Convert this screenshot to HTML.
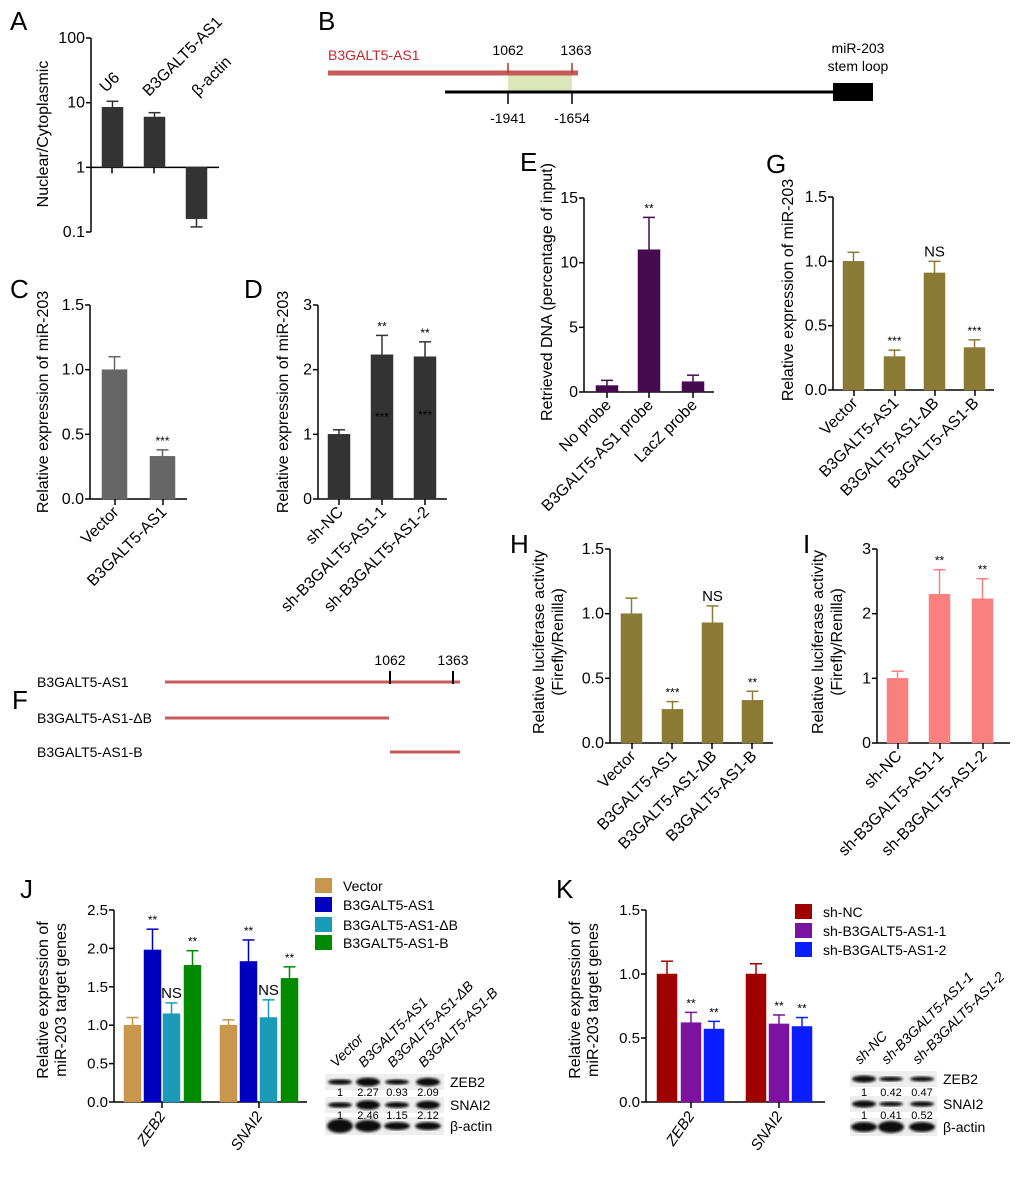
<!DOCTYPE html>
<html><head><meta charset="utf-8"><style>
html,body{margin:0;padding:0;background:#fff;}
svg{display:block;font-family:"Liberation Sans",sans-serif;}
.nar{font-family:"Liberation Sans Narrow","Liberation Sans",sans-serif;}
</style></head><body>
<svg id="fig" width="1020" height="1181" viewBox="0 0 1020 1181" xmlns="http://www.w3.org/2000/svg">
<defs><filter id="bl"><feGaussianBlur stdDeviation="1.2"/></filter></defs>
<g font-size="26">
<text x="10" y="30">A</text><text x="318" y="30">B</text><text x="10" y="298">C</text><text x="244" y="298">D</text>
<text x="520" y="171">E</text><text x="766" y="173">G</text><text x="12" y="709">F</text>
<text x="510" y="553">H</text><text x="803" y="553">I</text><text x="20" y="898">J</text><text x="556" y="898">K</text>
</g>
<g>
<text x="328" y="60" fill="#c0282d" font-size="14">B3GALT5-AS1</text>
<rect x="508" y="73" width="64" height="19" fill="#dbe7b8"/>
<line x1="328" y1="73" x2="578" y2="73" stroke="#c55a5a" stroke-width="5"/>
<line x1="445" y1="92" x2="835" y2="92" stroke="#000" stroke-width="3"/>
<rect x="833" y="83" width="40" height="18" fill="#000"/>
<line x1="508" y1="63" x2="508" y2="73" stroke="#c0282d" stroke-width="1.5"/><line x1="572" y1="63" x2="572" y2="73" stroke="#c0282d" stroke-width="1.5"/>
<line x1="508" y1="92" x2="508" y2="104" stroke="#000" stroke-width="1.5"/><line x1="572" y1="92" x2="572" y2="104" stroke="#000" stroke-width="1.5"/>
<text x="508" y="55" font-size="14" text-anchor="middle">1062</text><text x="576" y="55" font-size="14" text-anchor="middle">1363</text>
<text x="508" y="123" font-size="14" text-anchor="middle">-1941</text><text x="572" y="123" font-size="14" text-anchor="middle">-1654</text>
<text x="858" y="53" font-size="14" text-anchor="middle">miR-203</text><text x="858" y="71" font-size="14" text-anchor="middle">stem loop</text>
</g>
<g font-size="14">
<text x="37" y="687">B3GALT5-AS1</text><text x="37" y="723">B3GALT5-AS1-ΔB</text><text x="37" y="757">B3GALT5-AS1-B</text>
<line x1="165" y1="682" x2="460" y2="682" stroke="#c55a5a" stroke-width="3"/>
<line x1="165" y1="718" x2="389" y2="718" stroke="#c55a5a" stroke-width="3"/>
<line x1="390" y1="752" x2="460" y2="752" stroke="#c55a5a" stroke-width="3"/>
<line x1="390" y1="671" x2="390" y2="684" stroke="#000" stroke-width="2"/><line x1="453" y1="671" x2="453" y2="684" stroke="#000" stroke-width="2"/>
<text x="390" y="665" text-anchor="middle">1062</text><text x="453" y="665" text-anchor="middle">1363</text>
</g>
<g id="charts"></g>
</svg>
<script>
const aCats=["U6","B3GALT5-AS1","β-actin"]; const aVals=[8.5,6.0,0.16]; const aErr=[10.5,7.0,0.12];
const cCats=["Vector","B3GALT5-AS1"]; const cVals=[1.0,0.33]; const cErr=[1.1,0.38]; const cTicks=["0.0","0.5","1.0","1.5"];
const dCats=["sh-NC","sh-B3GALT5-AS1-1","sh-B3GALT5-AS1-2"]; const dVals=[1.0,2.23,2.2]; const dErr=[1.07,2.53,2.43]; const dTicks=["0","1","2","3"];
const eCats=["No probe","B3GALT5-AS1 probe","LacZ probe"]; const eVals=[0.5,11.0,0.8]; const eErr=[0.9,13.5,1.3]; const eTicks=["0","5","10","15"];
const gCats=["Vector","B3GALT5-AS1","B3GALT5-AS1-ΔB","B3GALT5-AS1-B"]; const gVals=[1.0,0.26,0.91,0.33]; const gErr=[1.07,0.31,1.0,0.39];
const hVals=[1.0,0.26,0.93,0.33]; const hErr=[1.12,0.32,1.06,0.4];
const iVals=[1.0,2.3,2.23]; const iErr=[1.11,2.68,2.54];
const jGroups=["ZEB2","SNAI2"]; const jSeries=["Vector","B3GALT5-AS1","B3GALT5-AS1-ΔB","B3GALT5-AS1-B"];
const jZeb=[1.0,1.98,1.15,1.78]; const jZebErr=[1.1,2.25,1.29,1.97]; const jSnai=[1.0,1.83,1.1,1.61]; const jSnaiErr=[1.07,2.11,1.33,1.76];
const jTicks=["0.0","0.5","1.0","1.5","2.0","2.5"];
const kSeries=["sh-NC","sh-B3GALT5-AS1-1","sh-B3GALT5-AS1-2"];
const kZeb=[1.0,0.62,0.57]; const kZebErr=[1.1,0.7,0.63]; const kSnai=[1.0,0.61,0.59]; const kSnaiErr=[1.08,0.68,0.66];
const j15Ticks=["0.0","0.5","1.0","1.5"];

const NS="http://www.w3.org/2000/svg";
const root=document.getElementById('charts');
function el(tag,at,parent,txt){const e=document.createElementNS(NS,tag);for(const k in at)e.setAttribute(k,at[k]);if(txt!==undefined)e.textContent=txt;(parent||root).appendChild(e);return e;}

function chart(o){
  const g=el('g',{});
  
  
  const ys=v=>o.log? o.y0-(Math.log10(v)-Math.log10(o.min))/(Math.log10(o.max)-Math.log10(o.min))*(o.y0-o.yTop)
                     : o.y0-(v-o.min)/(o.max-o.min)*(o.y0-o.yTop);
  const base=o.log?ys(1):o.y0;
  el('line',{x1:o.ax,y1:o.yTop,x2:o.ax,y2:o.y0,stroke:'#000','stroke-width':1.5},g);
  o.ticks.forEach((t,i)=>{const v=o.tickVals[i];const y=ys(v);
    el('line',{x1:o.ax-5,y1:y,x2:o.ax,y2:y,stroke:'#000','stroke-width':1.5},g);
    const tx=el('text',{x:o.ax-6,y:y+5,'text-anchor':'end','font-size':o.fs||16,class:o.narrow?'nar':''},g,t);
    
    });
  el('line',{x1:o.ax,y1:base,x2:o.xEnd,y2:base,stroke:'#000','stroke-width':1.5},g);
  o.bars.forEach((b,i)=>{
    const yv=ys(b.v), ye=ys(b.e), cx=b.x+b.w/2;
    el('line',{x1:cx,y1:yv,x2:cx,y2:ye,stroke:b.c,'stroke-width':1.5},g);
    el('line',{x1:cx-6,y1:ye,x2:cx+6,y2:ye,stroke:b.c,'stroke-width':1.5},g);
    const r=el('rect',{x:b.x,y:Math.min(yv,base),width:b.w,height:Math.abs(base-yv),fill:b.c,stroke:b.sc||b.c,'stroke-width':0.5},g);
    
    
    if(b.star){const s=el('text',{x:cx,y:Math.min(ye,yv)-5,'text-anchor':'middle','font-size':b.star==='NS'?15:12,class:o.narrow?'nar':''},g,b.star);
      
      }
  });
  (o.xt||[]).forEach(x=>el('line',{x1:x,y1:base,x2:x,y2:base+6,stroke:'#000','stroke-width':1.5},g));
  (o.xl||[]).forEach(l=>{const t=el('text',{x:l.x,y:l.y,'text-anchor':l.anchor||'end','font-size':l.fs||16,transform:`rotate(${l.r||-45} ${l.x} ${l.y})`,'font-style':l.it?'italic':'normal'},g,l.t);
    
    });
  o.yl.forEach(l=>{const t=el('text',{x:l.x,y:l.y,'text-anchor':'middle','font-size':l.fs||16,transform:`rotate(-90 ${l.x} ${l.y})`},g,l.t);
    
    });
  return g;
}
function simpleBars(cats,vals,errs,xs,w,c,stars){return vals.map((v,i)=>({x:xs[i],w:w,v:v,e:errs[i],c:c,label:cats[i],star:stars?stars[i]:null}));}
function catLabels(cats,xs,w,base){return cats.map((t,i)=>({t:t,x:xs[i]+w/2+5,y:base+14}));}

chart({name:'panel-a-chart',log:true,min:0.1,max:100,y0:232,yTop:38,ax:91,xEnd:219,ticks:["0.1","1","10","100"],tickVals:[0.1,1,10,100],
 bars:aVals.map((v,i)=>({x:[102,144,186][i],w:21,v:v,e:aErr[i],c:'#333',label:aCats[i]})),xt:[112,154],
 xl:aCats.map((t,i)=>({t:t,x:[106,149,198][i],y:[93,97,97][i],anchor:'start'})),
 yl:[{t:'Nuclear/Cytoplasmic',x:48,y:134}]});
chart({name:'panel-c-chart',min:0,max:1.5,y0:499,yTop:305,ax:90,xEnd:187,ticks:cTicks,tickVals:[0,0.5,1,1.5],
 bars:simpleBars(cCats,cVals,cErr,[102,150],25,'#666',[null,'***']),xt:[115,163],
 xl:catLabels(cCats,[102,150],25,499),yl:[{t:'Relative expression of miR-203',x:48,y:402}]});
chart({name:'panel-d-chart',min:0,max:3,y0:499,yTop:305,ax:318,xEnd:447,ticks:dTicks,tickVals:[0,1,2,3],
 bars:simpleBars(dCats,dVals,dErr,[328,371,414],22,'#333',[null,'**','**']),xt:[339,382,425],
 xl:catLabels(dCats,[328,371,414],22,499),yl:[{t:'Relative expression of miR-203',x:288,y:402}]});
[[382,421],[425,419]].forEach(p=>{const t=el('text',{x:p[0],y:p[1],'text-anchor':'middle','font-size':12},root,'***');});
chart({name:'panel-e-chart',min:0,max:15,y0:392,yTop:198,ax:584,xEnd:714,ticks:eTicks,tickVals:[0,5,10,15],
 bars:simpleBars(eCats,eVals,eErr,[596,638,682],22,'#450a50',[null,'**',null]),xt:[607,649,693],
 xl:catLabels(eCats,[596,638,682],22,392),yl:[{t:'Retrieved DNA (percentage of input)',x:552,y:292}]});
chart({name:'panel-g-chart',min:0,max:1.5,y0:390,yTop:197,ax:833,xEnd:994,ticks:cTicks,tickVals:[0,0.5,1,1.5],
 bars:simpleBars(gCats,gVals,gErr,[843,884,924,964],21,'#8a7a35',[null,'***','NS','***']),xt:[854,895,935,975],
 xl:catLabels(gCats,[843,884,924,964],21,390),yl:[{t:'Relative expression of miR-203',x:793,y:290}]});
chart({name:'panel-h-chart',min:0,max:1.5,y0:743,yTop:549,ax:610,xEnd:773,ticks:cTicks,tickVals:[0,0.5,1,1.5],
 bars:simpleBars(gCats,hVals,hErr,[621,662,702,742],21,'#8a7a35',[null,'***','NS','**']),xt:[632,672,712,752],
 xl:catLabels(gCats,[621,662,702,742],21,743),yl:[{t:'Relative luciferase activity',x:544,y:642},{t:'(Firefly/Renilla)',x:563,y:642}]});
chart({name:'panel-i-chart',min:0,max:3,y0:743,yTop:549,ax:877,xEnd:1010,ticks:dTicks,tickVals:[0,1,2,3],
 bars:simpleBars(dCats,iVals,iErr,[887,929,972],21,'#fa8080',[null,'**','**']),xt:[898,940,983],
 xl:catLabels(dCats,[887,929,972],21,743),yl:[{t:'Relative luciferase activity',x:823,y:642},{t:'(Firefly/Renilla)',x:842,y:642}]});
const jCol=['#c8964c','#0000c0','#1a9cb8','#008a00'];
const jx1=[124,144,163,184], jx2=[220,240,260,281];
const jB=[];
jZeb.forEach((v,i)=>jB.push({x:jx1[i],w:17,v:v,e:jZebErr[i],c:jCol[i],label:'zeb2-'+jSeries[i],star:[null,'**','NS','**'][i]}));
jSnai.forEach((v,i)=>jB.push({x:jx2[i],w:17,v:v,e:jSnaiErr[i],c:jCol[i],label:'snai2-'+jSeries[i],star:[null,'**','NS','**'][i]}));
chart({name:'panel-j-chart',narrow:true,fs:15,min:0,max:2.5,y0:1102,yTop:910,ax:114,xEnd:307,ticks:jTicks,tickVals:[0,0.5,1,1.5,2,2.5],
 bars:jB,xt:[162,259],xl:jGroups.map((t,i)=>({t:t,x:[166,263][i],y:1116,it:true,r:-55,fs:15})),
 yl:[{t:'Relative expression of',x:48,y:1000},{t:'miR-203 target genes',x:66,y:1000}]});
const kCol=['#a00000','#7b12a0','#0a1eff'];
const kx1=[657,681,704], kx2=[746,769,792];
const kB=[];
kZeb.forEach((v,i)=>kB.push({x:kx1[i],w:20,v:v,e:kZebErr[i],c:kCol[i],label:'zeb2-'+kSeries[i],star:[null,'**','**'][i]}));
kSnai.forEach((v,i)=>kB.push({x:kx2[i],w:20,v:v,e:kSnaiErr[i],c:kCol[i],label:'snai2-'+kSeries[i],star:[null,'**','**'][i]}));
chart({name:'panel-k-chart',narrow:true,fs:15,min:0,max:1.5,y0:1102,yTop:910,ax:646,xEnd:825,ticks:j15Ticks,tickVals:[0,0.5,1,1.5],
 bars:kB,xt:[691,779],xl:jGroups.map((t,i)=>({t:t,x:[695,783][i],y:1116,it:true,r:-55,fs:15})),
 yl:[{t:'Relative expression of',x:580,y:1000},{t:'miR-203 target genes',x:598,y:1000}]});
function legend(items,cols,x,ys,name){const g=el('g',{});
 items.forEach((t,i)=>{el('rect',{x:x,y:ys[i]-8,width:17,height:15,fill:cols[i]},g);
  const tx=el('text',{x:x+28,y:ys[i]+5,'font-size':14,class:'nar'},g,t);
  
  });}
legend(jSeries,jCol,315,[886,905,925,943],'legend-j');
legend(kSeries,kCol,795,[912,931,950],'legend-k');
function blot(name,x0,x1,lanes,zeb,zebNums,snai,snaiNums,act,labs,rowY){
 const g=el('g',{});
 el('rect',{x:x0,y:rowY[0]-8,width:x1-x0,height:16,fill:'#eee'},g);
 el('rect',{x:x0,y:rowY[2]-8,width:x1-x0,height:16,fill:'#eee'},g);
 el('rect',{x:x0,y:rowY[4]-9,width:x1-x0,height:18,fill:'#eee'},g);
 lanes.forEach((cx,i)=>{
  el('ellipse',{cx:cx,cy:rowY[0],rx:12,ry:1.5+zeb[i]*1.3,fill:'#111',filter:'url(#bl)'},g);
  el('ellipse',{cx:cx,cy:rowY[2],rx:12,ry:1.5+snai[i]*1.3,fill:'#111',filter:'url(#bl)'},g);
  el('ellipse',{cx:cx,cy:rowY[4],rx:13,ry:act[i],fill:'#111',filter:'url(#bl)'},g);
  el('text',{x:cx,y:rowY[1]+4,'text-anchor':'middle','font-size':11,class:'nar'},g,zebNums[i]);
  el('text',{x:cx,y:rowY[3]+4,'text-anchor':'middle','font-size':11,class:'nar'},g,snaiNums[i]);
  const t=el('text',{x:cx-4,y:rowY[0]-14,'font-size':14,'font-style':'italic',class:'nar',transform:`rotate(-45 ${cx-4} ${rowY[0]-14})`},g,labs[i]);
  
  
 });
 ['ZEB2','SNAI2','β-actin'].forEach((t,i)=>el('text',{x:x1+6,y:rowY[i*2]+5,'font-size':14,class:'nar'},g,t));
}
blot('blot-j',325,444,[340,368,397,428],[1,2.27,0.93,2.09],["1","2.27","0.93","2.09"],[1,2.46,1.15,2.12],["1","2.46","1.15","2.12"],[7,6,4,4],jSeries,[1082,1092,1105,1115,1126]);
blot('blot-k',850,937,[864,891,922],[1.6,0.7,0.8],["1","0.42","0.47"],[1.6,0.7,0.9],["1","0.41","0.52"],[5,6,5],kSeries,[1079,1092,1104,1115,1127]);
</script>
</body></html>
